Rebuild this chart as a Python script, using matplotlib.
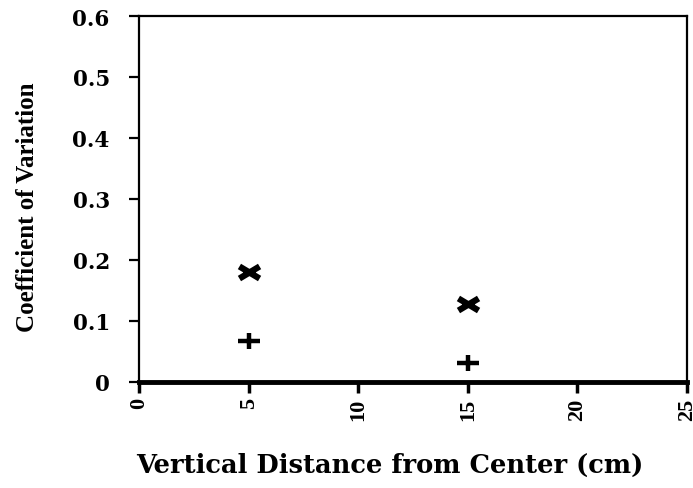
import matplotlib
matplotlib.use("Agg")
import matplotlib.pyplot as plt
from matplotlib.path import Path

# Data
distance = [5, 15]
cv_x_series = [0.18, 0.128]
cv_plus_series = [0.067, 0.031]
x_ticks = [0, 5, 10, 15, 20, 25]
y_ticks = [0, 0.1, 0.2, 0.3, 0.4, 0.5, 0.6]
y_ticklabels = ["0", "0.1", "0.2", "0.3", "0.4", "0.5", "0.6"]

plt.rcParams['font.family'] = ['DejaVu Serif', 'Liberation Serif']

# wide "x" and "+" marker shapes
x_marker = Path([(-1, -0.6), (1, 0.6), (-1, 0.6), (1, -0.6)],
                [Path.MOVETO, Path.LINETO, Path.MOVETO, Path.LINETO])
plus_marker = Path([(-1, 0), (1, 0), (0, -0.75), (0, 0.75)],
                   [Path.MOVETO, Path.LINETO, Path.MOVETO, Path.LINETO])

fig = plt.figure(figsize=(6.93, 4.89), dpi=100)
ax = fig.add_axes([139/693, 1 - 383/489, (687-139)/693, (383-17)/489])

ax.plot(distance, cv_x_series, linestyle='none', marker=x_marker, markersize=14.5,
        markeredgewidth=4.5, color='black', clip_on=False)
ax.plot(distance, cv_plus_series, linestyle='none', marker=plus_marker, markersize=15.5,
        markeredgewidth=3.2, color='black', clip_on=False)

ax.set_xlim(0, 25)
ax.set_ylim(0, 0.6)
ax.set_xticks(x_ticks)
ax.set_xticklabels([str(t) for t in x_ticks], rotation=90, fontsize=16,
                   fontweight='bold', family='Liberation Serif')
ax.set_yticks(y_ticks)
ax.set_yticklabels(y_ticklabels, fontsize=15.5, fontweight='bold')

for s in ['left', 'right', 'top']:
    ax.spines[s].set_linewidth(1.6)
ax.spines['bottom'].set_linewidth(3.5)

ax.tick_params(axis='y', direction='out', length=7, width=1.6, pad=14)
ax.tick_params(axis='x', direction='out', length=8, width=2.5, pad=3)

ax.set_ylabel("Coefficient of Variation", fontsize=18, fontweight='bold',
              family='Liberation Serif')
ax.set_xlabel("Vertical Distance from Center (cm)", fontsize=18.5, fontweight='bold')
ax.xaxis.set_label_coords(0.458, -0.19)
ax.yaxis.set_label_coords(-0.183, 0.48)

fig.savefig("out.png", dpi=100)
